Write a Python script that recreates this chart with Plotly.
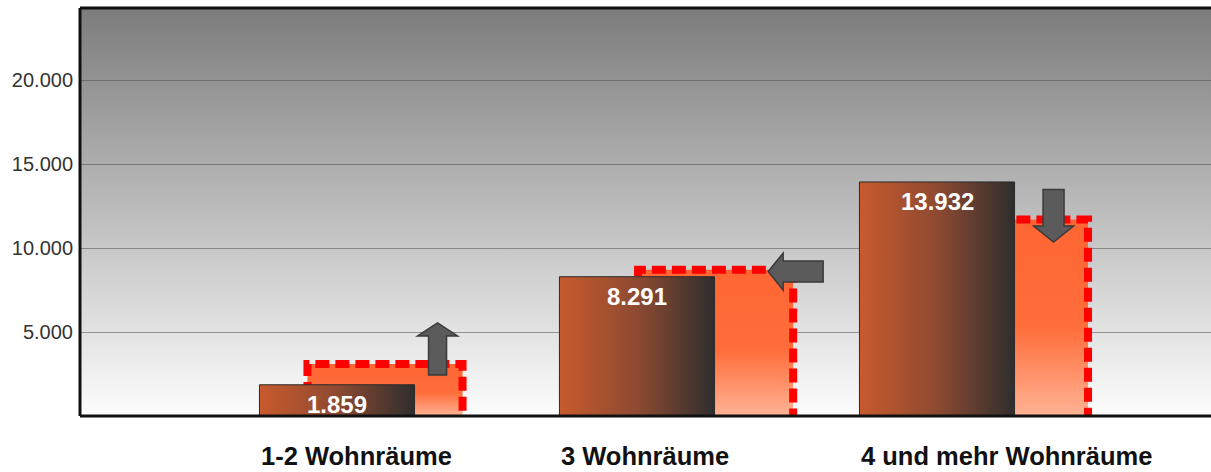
import base64
import plotly.graph_objects as go

# --- data -------------------------------------------------------------
categories = ["1-2 Wohnräume", "3 Wohnräume", "4 und mehr Wohnräume"]
current_values = [1859, 8291, 13932]      # front bars (labelled)
target_values = [3100, 8700, 11700]       # dashed comparison bars
trend = ["up", "left", "down"]            # direction markers per group
y_ticks = [5000, 10000, 15000, 20000]

# --- layout constants -------------------------------------------------
W, H = 1211, 472
M_L, M_R, M_T, M_B = 80, 0, 8, 56
PX_PER_UNIT = 300.0                       # x pixels per category step
X0_PX = 337.0                             # pixel centre of first category
X_MIN = -(X0_PX - M_L) / PX_PER_UNIT
X_MAX = (W - M_R - X0_PX) / PX_PER_UNIT
Y_PER_PX = 5000 / 84.0
Y_MAX = (H - M_T - M_B) * Y_PER_PX

BAR_W = 0.517
BACK_SHIFT = [0.16, 0.262, 0.245]

FONT = "Liberation Sans, Arial, sans-serif"


def fmt(v):
    return f"{v:,}".replace(",", ".")


fig = go.Figure()

# comparison bars: vertical orange gradient with dashed red outline
for i, v in enumerate(target_values):
    c = i + BACK_SHIFT[i]
    x0, x1 = c - BAR_W / 2, c + BAR_W / 2
    fig.add_trace(go.Scatter(
        x=[x0, x0, x1, x1], y=[0, v, v, 0],
        mode="lines", fill="toself",
        fillgradient=dict(type="vertical",
                          colorscale=[[0, "#FFB394"], [0.45, "#FF6D3B"], [1, "#FF6633"]]),
        line=dict(color="#FF0000", width=8, dash="14px,6px"),
        hoverinfo="skip", showlegend=False,
    ))

# current bars: horizontal brown gradient
for i, v in enumerate(current_values):
    x0, x1 = i - BAR_W / 2, i + BAR_W / 2
    fig.add_trace(go.Scatter(
        x=[x0, x0, x1, x1, x0], y=[0, v, v, 0, 0],
        mode="lines", fill="toself",
        fillgradient=dict(type="horizontal",
                          colorscale=[[0, "#C85A2D"], [0.5, "#8E4A31"], [1, "#2E2E2E"]]),
        line=dict(color="#2A2A2A", width=1),
        hoverinfo="skip", showlegend=False,
    ))

# value labels inside the current bars
annotations = []
for i, v in enumerate(current_values):
    annotations.append(dict(
        x=i, y=v, xref="x", yref="y", text=fmt(v), showarrow=False,
        yanchor="top", yshift=-4,
        font=dict(family=FONT, size=24, color="white", weight="bold"),
    ))

# category labels below the axis
for i, name in enumerate(categories):
    annotations.append(dict(
        x=i - BAR_W / 2, y=0, xref="x", yref="paper", text=name,
        showarrow=False, xanchor="left", yanchor="middle", yshift=-40,
        font=dict(family=FONT, size=25.5, color="#111111", weight="bold"),
    ))


# grey trend arrows placed at the top-right corner of each comparison bar
def arrow_path(kind, ax, ay):
    """Arrow outline in data coordinates, built from pixel offsets."""
    def pt(dx, dy):
        return f"{ax + dx / PX_PER_UNIT},{ay - dy * Y_PER_PX}"
    if kind == "up":
        cx = -25
        pts = [(cx - 9, 11), (cx - 9, -28), (cx - 20, -28), (cx, -41),
               (cx + 20, -28), (cx + 9, -28), (cx + 9, 11)]
    elif kind == "down":
        cx = -34.5
        pts = [(cx - 10.5, -30), (cx - 10.5, 6.6), (cx - 20, 6.6), (cx, 22.6),
               (cx + 20, 6.6), (cx + 10.5, 6.6), (cx + 10.5, -30)]
    else:  # left
        cy = 1.7
        pts = [(30, cy - 10.5), (-10, cy - 10.5), (-10, cy - 18.5), (-25, cy),
               (-10, cy + 18.5), (-10, cy + 10.5), (30, cy + 10.5)]
    return "M" + " L".join(pt(dx, dy) for dx, dy in pts) + " Z"


shapes = []
for i, v in enumerate(target_values):
    right = i + BACK_SHIFT[i] + BAR_W / 2
    shapes.append(dict(
        type="path", xref="x", yref="y", path=arrow_path(trend[i], right, v),
        fillcolor="#5B5B5B", line=dict(color="#3A3A3A", width=1.5), layer="above",
    ))

# plot frame: top, left, bottom
for (x0, y0, x1, y1) in [(0, 0, 1, 0), (0, 1, 1, 1), (0, 0, 0, 1)]:
    shapes.append(dict(type="line", xref="paper", yref="paper",
                       x0=x0, y0=y0, x1=x1, y1=y1,
                       line=dict(color="#111111", width=3), layer="above"))

# plot-area background: grey-to-white vertical gradient
svg = ('<svg xmlns="http://www.w3.org/2000/svg" width="10" height="100" '
       'viewBox="0 0 10 100" preserveAspectRatio="none"><defs>'
       '<linearGradient id="g" x1="0" y1="0" x2="0" y2="1">'
       '<stop offset="0" stop-color="#7C7C7C"/>'
       '<stop offset="1" stop-color="#FDFDFD"/></linearGradient></defs>'
       '<rect width="10" height="100" fill="url(#g)"/></svg>')
bg_src = "data:image/svg+xml;base64," + base64.b64encode(svg.encode()).decode()

fig.update_layout(
    width=W, height=H,
    margin=dict(l=M_L, r=M_R, t=M_T, b=M_B),
    paper_bgcolor="white",
    plot_bgcolor="rgba(0,0,0,0)",
    separators=",.",
    showlegend=False,
    hovermode=False,
    images=[dict(source=bg_src, xref="paper", yref="paper", x=0, y=1,
                 sizex=1, sizey=1, sizing="stretch", layer="below")],
    xaxis=dict(range=[X_MIN, X_MAX], showgrid=False, zeroline=False,
               showticklabels=False, showline=False, fixedrange=True),
    yaxis=dict(range=[0, Y_MAX], tickvals=y_ticks,
               ticktext=[fmt(t) for t in y_ticks],
               showgrid=True, gridcolor="rgba(80,80,80,0.55)", gridwidth=1,
               zeroline=False, showline=False, ticks="",
               ticklabelstandoff=6,
               tickfont=dict(family=FONT, size=20, color="#333333"),
               fixedrange=True),
    annotations=annotations,
    shapes=shapes,
)

fig.write_html("out.html", config={"displayModeBar": False})
